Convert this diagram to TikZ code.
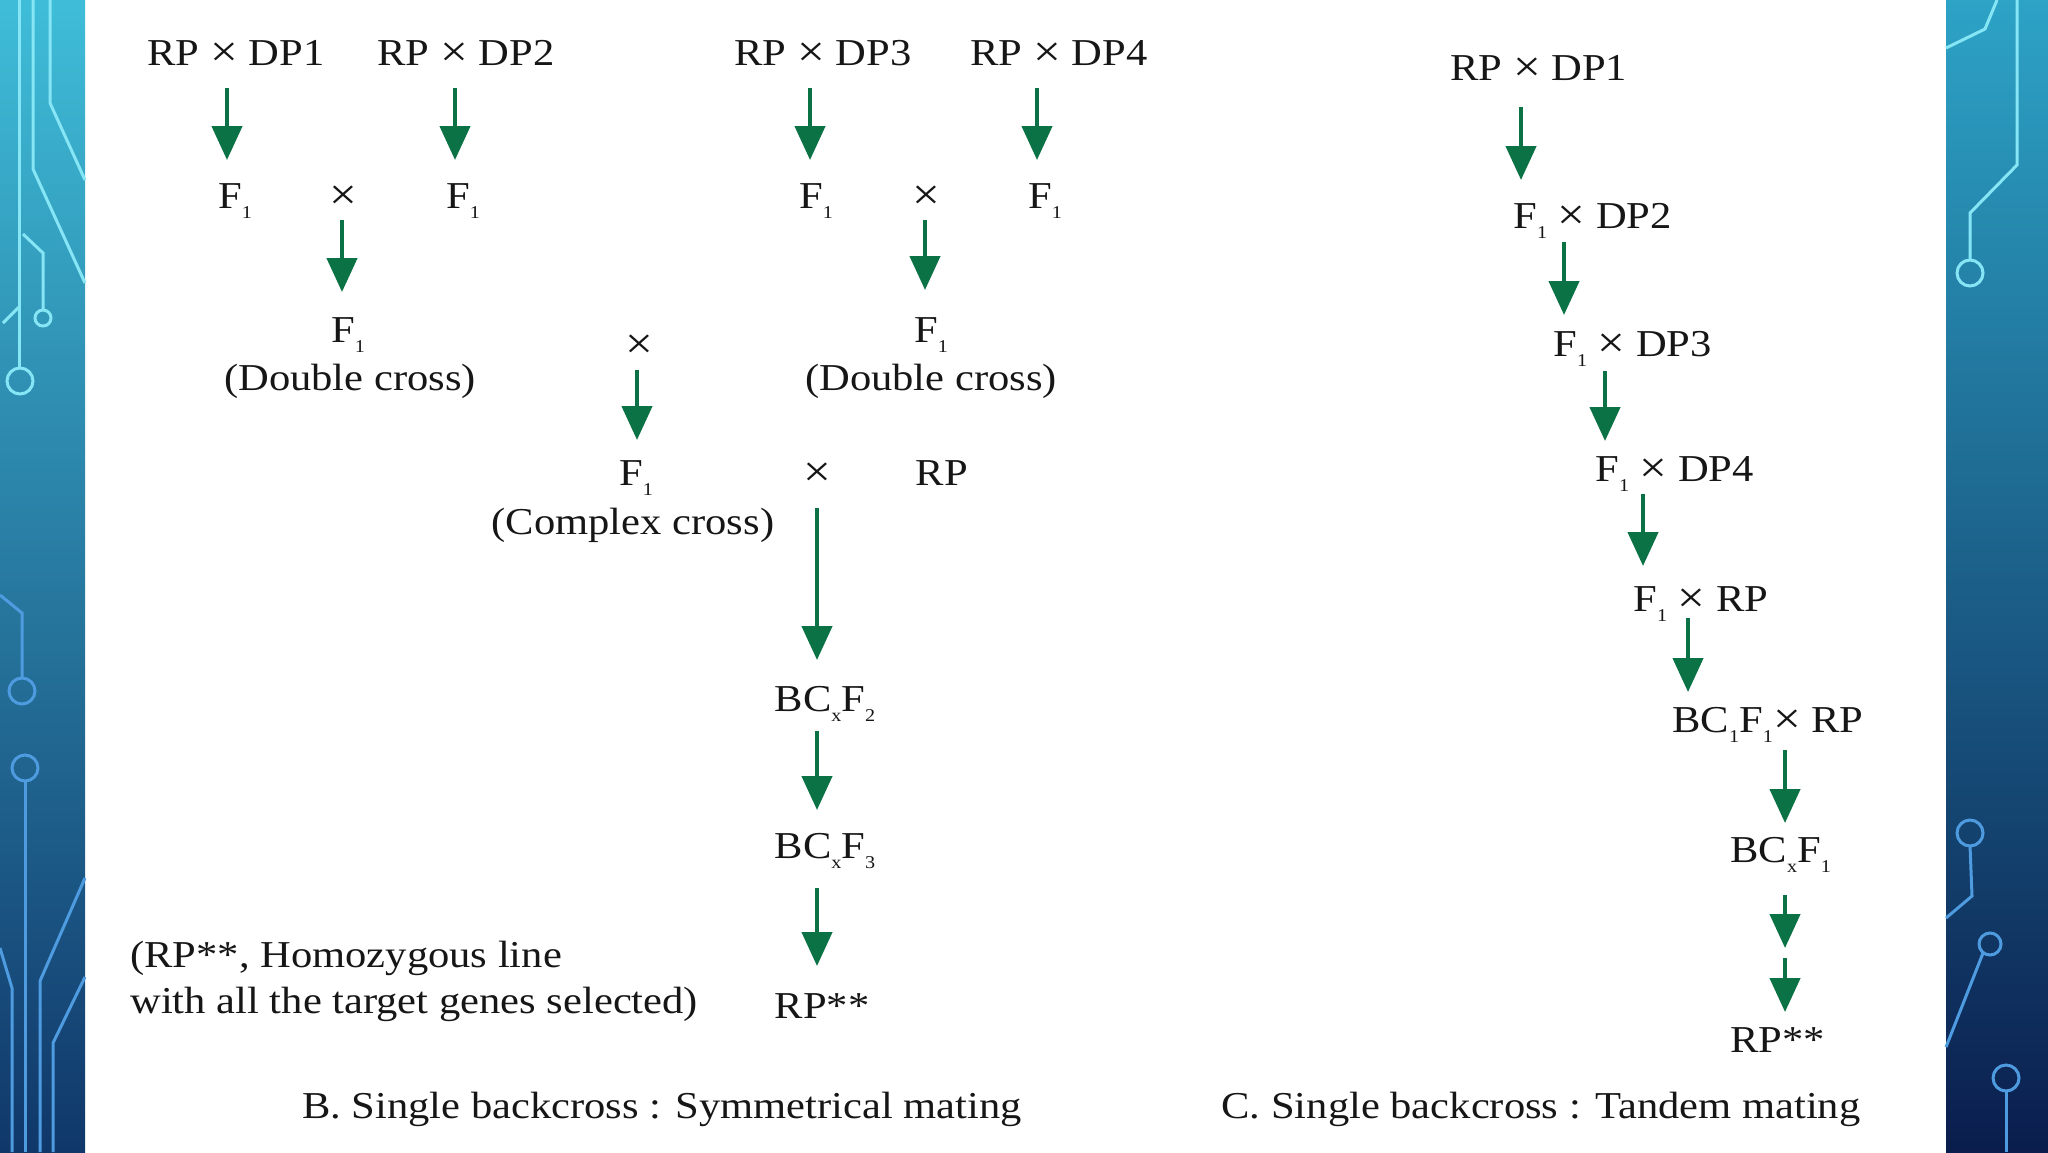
\documentclass[tikz,border=0pt]{standalone}
\usepackage{fontspec}
\setmainfont{Liberation Serif}[FakeStretch=1.12]
\usetikzlibrary{arrows.meta}
\definecolor{arrgreen}{HTML}{0B7245}
\definecolor{txt}{HTML}{161616}
\definecolor{ltop}{HTML}{3FBDD8}
\definecolor{lmid}{HTML}{2A97C2}
\definecolor{lbot}{HTML}{10376A}
\definecolor{rtop}{HTML}{2DA3C6}
\definecolor{rmid}{HTML}{15598D}
\definecolor{rbot}{HTML}{0A1D4D}
\definecolor{cyanline}{HTML}{86E6F5}
\definecolor{blueline}{HTML}{4E9BE0}
\newcommand{\lsb}[1]{\raisebox{-5pt}{\fontsize{9}{9}\selectfont #1}}
\newcommand{\tms}{\raisebox{-0.8pt}{\fontsize{22}{22}\selectfont ×}}
\begin{document}
\begin{tikzpicture}[x=0.5pt,y=-0.5pt,
  lbl/.style={text=txt,font=\fontsize{19}{23}\selectfont,inner sep=0pt,anchor=base},
  lblw/.style={lbl,anchor=base west},
  arr/.style={draw=arrgreen,line width=2.2pt,-{Triangle[width=15pt,length=17pt]}},
  circ1/.style={draw=cyanline,line width=1.5pt},
  circ2/.style={draw=blueline,line width=1.5pt}]
\useasboundingbox (0,0) rectangle (2048,1152);
\fill[white] (0,0) rectangle (2048,1152);
% side strips
\shade[top color=ltop,middle color=lmid,bottom color=lbot] (0,0) rectangle (85,1152);
\shade[top color=rtop,middle color=rmid,bottom color=rbot] (1946,0) rectangle (2048,1152);
% left circuit
\draw[circ1] (19,0) -- (19,368);
\draw[circ1] (20,381) circle[radius=13];
\draw[circ1] (33,0) -- (33,169) -- (85,283);
\draw[circ1] (50,0) -- (50,103) -- (85,180);
\draw[circ1] (23,234) -- (43,253) -- (43,310);
\draw[circ1] (43,318) circle[radius=8];
\draw[circ1] (3,323) -- (19,307);
\draw[circ2] (0,595) -- (22,613) -- (22,678);
\draw[circ2] (22,691) circle[radius=13];
\draw[circ2] (25,768) circle[radius=13];
\draw[circ2] (25,781) -- (25,1152);
\draw[circ2] (0,948) -- (12,988) -- (12,1152);
\draw[circ2] (85,878) -- (40,981) -- (40,1152);
\draw[circ2] (85,977) -- (53,1043) -- (53,1152);
% right circuit
\draw[circ1] (1946,48) -- (1985,29) -- (1997,0);
\draw[circ1] (2017,0) -- (2017,165) -- (1970,213) -- (1970,260);
\draw[circ1] (1970,273) circle[radius=13];
\draw[circ2] (1970,833) circle[radius=13];
\draw[circ2] (1970,846) -- (1972,896) -- (1946,918);
\draw[circ2] (1990,944) circle[radius=11];
\draw[circ2] (1983,953) -- (1946,1047);
\draw[circ2] (2006,1078) circle[radius=13];
\draw[circ2] (2006,1091) -- (2006,1152);

% ---- B: symmetrical mating ----
\node[lbl] (a1) at (236,65) {RP \tms{} DP1};
\node[lbl] (a2) at (466,65) {RP \tms{} DP2};
\node[lbl] (a3) at (823,65) {RP \tms{} DP3};
\node[lbl] (a4) at (1059,65) {RP \tms{} DP4};
\node[lbl] (f1a) at (235,208) {F\lsb{1}};
\node[lbl] (xa) at (343,208) {\tms};
\node[lbl] (f1b) at (463,208) {F\lsb{1}};
\node[lbl] (f1c) at (816,208) {F\lsb{1}};
\node[lbl] (xb) at (926,208) {\tms};
\node[lbl] (f1d) at (1045,208) {F\lsb{1}};
\node[lbl] (dcf1) at (348,342) {F\lsb{1}};
\node[lbl] (dct1) at (350,390) {(Double cross)};
\node[lbl] (dcf2) at (931,342) {F\lsb{1}};
\node[lbl] (dct2) at (931,390) {(Double cross)};
\node[lbl] (xc) at (639,357) {\tms};
\node[lbl] (ccf) at (636,485) {F\lsb{1}};
\node[lbl] (cct) at (633,534) {(Complex cross)};
\node[lbl] (xd) at (817,485) {\tms};
\node[lbl] (rpb) at (942,485) {RP};
\node[lbl] (bc2) at (825,711) {BC\lsb{x}F\lsb{2}};
\node[lbl] (bc3) at (825,858) {BC\lsb{x}F\lsb{3}};
\node[lbl] (rpsb) at (822,1018) {RP**};
\node[lblw] (n1) at (130,967) {(RP**, Homozygous line};
\node[lblw] (n2) at (130,1013) {with all the target genes selected)};
\node[lbl] (capb) at (662,1118) {B. Single backcross : Symmetrical mating};

\coordinate (s1) at (227,88);  \coordinate (e1) at (227,160);
\coordinate (s2) at (455,88);  \coordinate (e2) at (455,160);
\coordinate (s3) at (810,88);  \coordinate (e3) at (810,160);
\coordinate (s4) at (1037,88); \coordinate (e4) at (1037,160);
\coordinate (s5) at (342,220); \coordinate (e5) at (342,292);
\coordinate (s6) at (925,220); \coordinate (e6) at (925,290);
\coordinate (s7) at (637,370); \coordinate (e7) at (637,440);
\coordinate (s8) at (817,508); \coordinate (e8) at (817,660);
\coordinate (s9) at (817,731); \coordinate (e9) at (817,810);
\coordinate (s10) at (817,888); \coordinate (e10) at (817,966);
\foreach \i in {1,...,10} {\draw[arr] (s\i) -- (e\i);}

% ---- C: tandem mating ----
\node[lblw] (c1) at (1450,80) {RP \tms{} DP1};
\node[lblw] (c2) at (1513,228) {F\lsb{1} \tms{} DP2};
\node[lblw] (c3) at (1553,356) {F\lsb{1} \tms{} DP3};
\node[lblw] (c4) at (1595,481) {F\lsb{1} \tms{} DP4};
\node[lblw] (c5) at (1633,611) {F\lsb{1} \tms{} RP};
\node[lblw] (c6) at (1672,732) {BC\lsb{1}F\lsb{1}\tms{} RP};
\node[lblw] (c7) at (1730,862) {BC\lsb{x}F\lsb{1}};
\node[lblw] (c8) at (1730,1052) {RP**};
\node[lbl] (capc) at (1541,1118) {C. Single backcross : Tandem mating};

\coordinate (t1) at (1521,107); \coordinate (u1) at (1521,180);
\coordinate (t2) at (1564,242); \coordinate (u2) at (1564,315);
\coordinate (t3) at (1605,371); \coordinate (u3) at (1605,441);
\coordinate (t4) at (1643,494); \coordinate (u4) at (1643,566);
\coordinate (t5) at (1688,618); \coordinate (u5) at (1688,692);
\coordinate (t6) at (1785,750); \coordinate (u6) at (1785,823);
\coordinate (t7) at (1785,895); \coordinate (u7) at (1785,948);
\coordinate (t8) at (1785,958); \coordinate (u8) at (1785,1012);
\foreach \i in {1,...,8} {\draw[arr] (t\i) -- (u\i);}
\end{tikzpicture}
\end{document}
